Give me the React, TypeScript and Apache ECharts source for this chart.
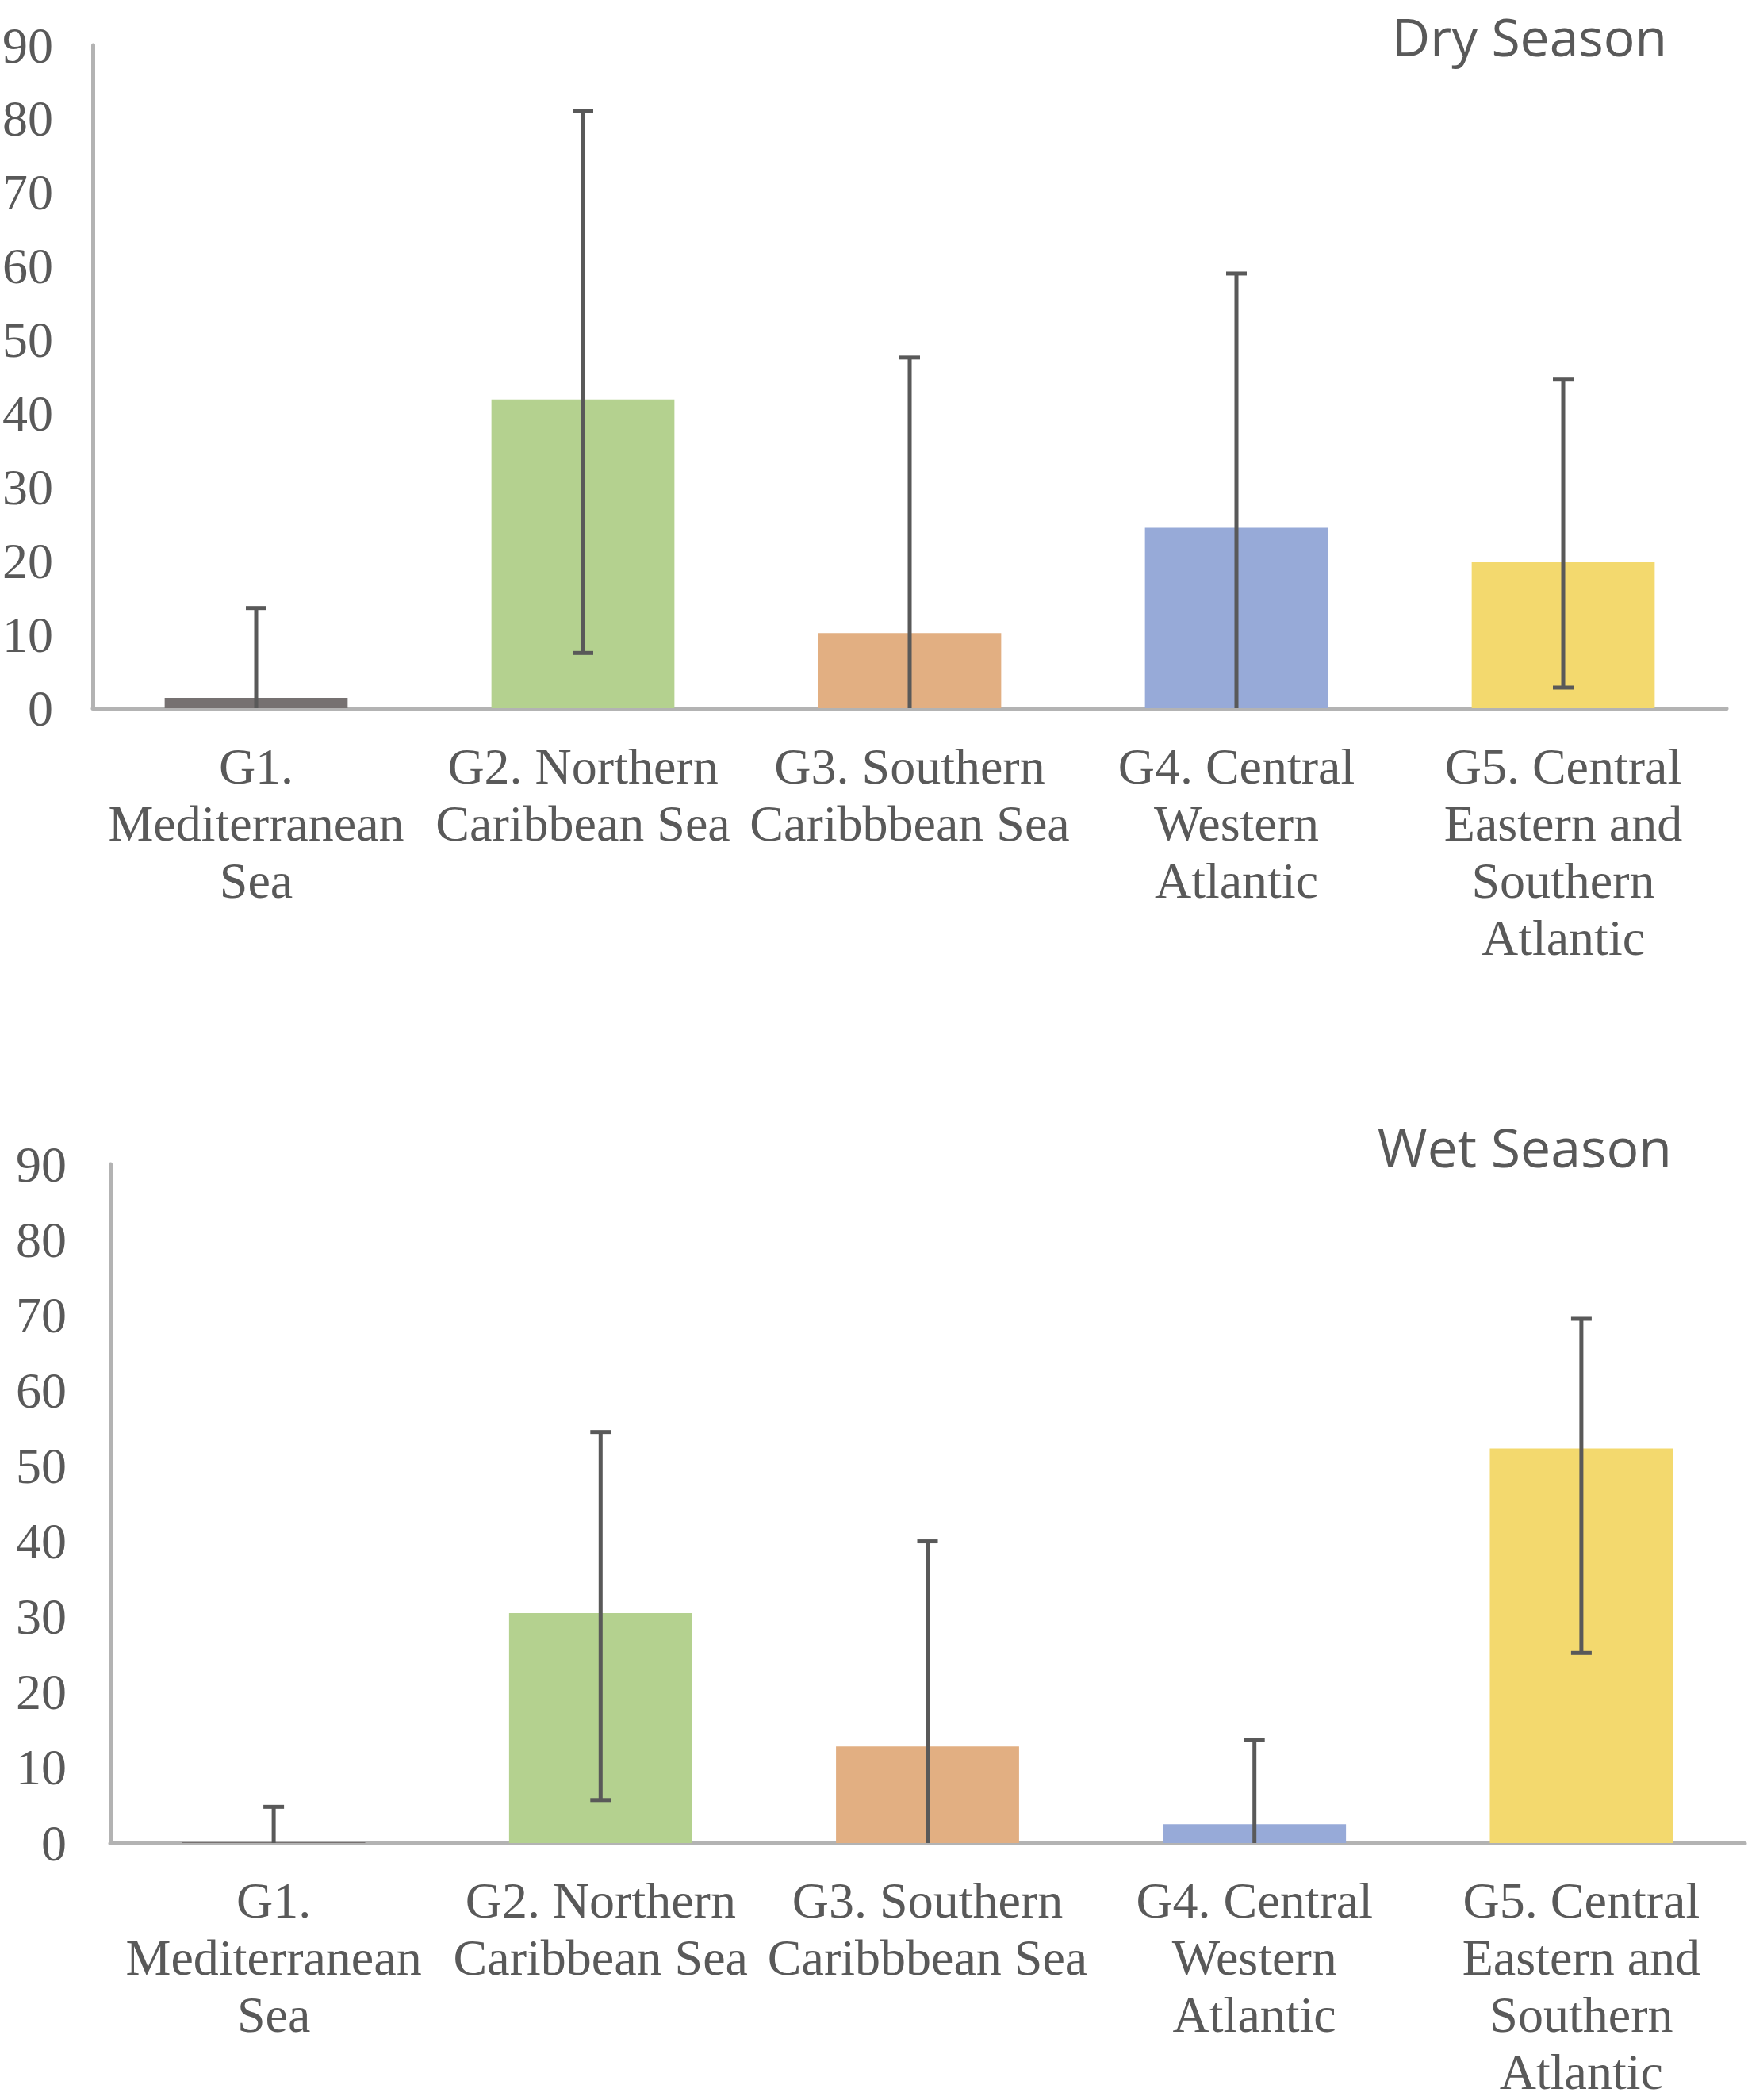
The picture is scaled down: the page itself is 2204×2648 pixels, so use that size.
import React, { useEffect, useRef } from "react";
import * as echarts from "echarts";

const categories = [
  "G1.\nMediterranean\nSea",
  "G2. Northern\nCaribbean Sea",
  "G3. Southern\nCaribbbean Sea",
  "G4. Central\nWestern\nAtlantic",
  "G5. Central\nEastern and\nSouthern\nAtlantic",
];
const yTicks = { min: 0, max: 90, interval: 10 };

const dryMeans = [1.4, 41.9, 10.2, 24.5, 19.8];
const dryLow = [0, 7.5, 0, 0, 2.8];
const dryHigh = [13.6, 81.1, 47.6, 59.0, 44.6];

const wetMeans = [0.1, 30.5, 12.8, 2.5, 52.3];
const wetLow = [0, 5.7, 0, 0, 25.2];
const wetHigh = [4.8, 54.5, 40.0, 13.7, 69.5];

const barColors = ["#767171", "#B4D18F", "#E2AF82", "#97AAD8", "#F3D96E"];
const titles = ["Dry Season", "Wet Season"];

const TEXT = "#595959";
const AXIS = "#B3B3B3";
const ERR = "#595959";

function errRender(params: any, api: any) {
  const x = api.value(0);
  const lo = api.value(1);
  const hi = api.value(2);
  const pLo = api.coord([x, lo]);
  const pHi = api.coord([x, hi]);
  const half = 13;
  const style = { stroke: ERR, lineWidth: 5 };
  const children: any[] = [
    { type: "line", shape: { x1: pHi[0], y1: pHi[1], x2: pLo[0], y2: pLo[1] }, style },
    { type: "line", shape: { x1: pHi[0] - half, y1: pHi[1], x2: pHi[0] + half, y2: pHi[1] }, style },
  ];
  if (lo > 0) {
    children.push({ type: "line", shape: { x1: pLo[0] - half, y1: pLo[1], x2: pLo[0] + half, y2: pLo[1] }, style });
  }
  return { type: "group", children };
}

export default function App() {
  const ref = useRef<HTMLDivElement>(null);
  useEffect(() => {
    if (!ref.current) return;
    const chart = echarts.init(ref.current, null, { renderer: "svg" });
    const xAxisBase = (gridIndex: number, margin: number) => ({
      type: "category",
      gridIndex,
      data: categories,
      axisLine: { show: true, lineStyle: { color: AXIS, width: 5 } },
      axisTick: { show: false },
      axisLabel: {
        interval: 0,
        fontFamily: "Liberation Serif",
        fontSize: 64,
        lineHeight: 72,
        color: TEXT,
        margin,
        verticalAlign: "top",
      },
    });
    const yAxisBase = (gridIndex: number, margin: number) => ({
      type: "value",
      gridIndex,
      min: yTicks.min,
      max: yTicks.max,
      interval: yTicks.interval,
      axisLine: { show: true, lineStyle: { color: AXIS, width: 5 } },
      axisTick: { show: false },
      splitLine: { show: false },
      axisLabel: { fontFamily: "Liberation Serif", fontSize: 64, color: TEXT, margin },
    });
    const barSeries = (idx: number, vals: number[]) => ({
      type: "bar",
      xAxisIndex: idx,
      yAxisIndex: idx,
      barWidth: "56%",
      data: vals.map((v, i) => ({ value: v, itemStyle: { color: barColors[i] } })),
      z: 2,
    });
    const errSeries = (idx: number, lo: number[], hi: number[]) => ({
      type: "custom",
      xAxisIndex: idx,
      yAxisIndex: idx,
      renderItem: errRender,
      encode: { x: 0, y: [1, 2] },
      data: lo.map((l, i) => [i, l, hi[i]]),
      z: 5,
      clip: false,
    });
    chart.setOption({
      animation: false,
      backgroundColor: "#ffffff",
      grid: [
        { left: 115, top: 57, width: 2062, height: 836 },
        { left: 139, top: 1468, width: 2061, height: 872 },
      ],
      xAxis: [xAxisBase(0, 37), xAxisBase(1, 36)],
      yAxis: [yAxisBase(0, 50), yAxisBase(1, 55)],
      series: [
        barSeries(0, dryMeans),
        errSeries(0, dryLow, dryHigh),
        barSeries(1, wetMeans),
        errSeries(1, wetLow, wetHigh),
      ],
      graphic: [
        {
          type: "text",
          x: 2102,
          y: 12,
          style: {
            text: titles[0],
            align: "right",
            verticalAlign: "top",
            fontFamily: "Open Sans",
            fontSize: 66,
            fill: TEXT,
          },
        },
        {
          type: "text",
          x: 2108,
          y: 1411,
          style: {
            text: titles[1],
            align: "right",
            verticalAlign: "top",
            fontFamily: "Open Sans",
            fontSize: 68,
            fill: TEXT,
          },
        },
      ],
    });
    return () => chart.dispose();
  }, []);
  return (
    <div
      ref={ref}
      style={{ position: "absolute", left: 0, top: 0, width: 2204, height: 2648, background: "#fff" }}
    />
  );
}
